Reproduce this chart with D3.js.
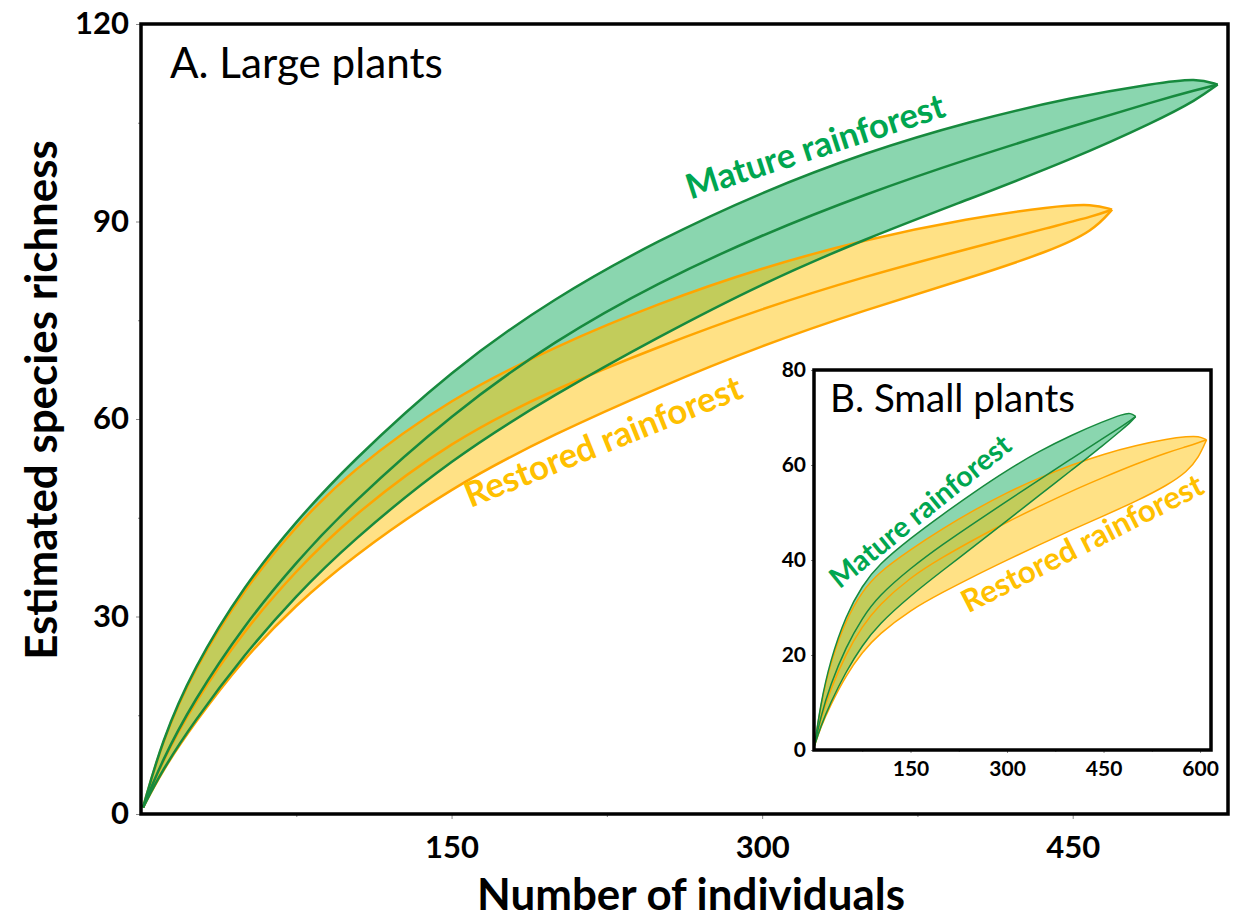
<!DOCTYPE html>
<html>
<head>
<meta charset="utf-8">
<script src="https://cdn.jsdelivr.net/npm/d3@7"></script>
<style>
  html, body { margin: 0; padding: 0; background: #fff; }
  svg { display: block; }
</style>
</head>
<body>
<svg id="chart" width="1235" height="920"></svg>
<script>
// ---- Panel A: large plants (rarefaction curves with 95% bands) ----
const largeMatureN    = [1, 10, 25, 50, 75, 100, 150, 200, 250, 300, 350, 400, 450, 490, 510, 520];
const largeMatureLow  = [1, 6.5, 13.8, 24.3, 33.2, 41, 54, 63.8, 72.5, 80.6, 87.4, 93.4, 99.5, 105.2, 108.5, 110.8];
const largeMatureMean = [1, 8, 17, 28.8, 38.3, 46.7, 60.8, 72, 80.8, 88, 94.2, 99.6, 104.5, 108.3, 110, 110.8];
const largeMatureHigh = [1, 11, 22, 34.8, 44.5, 53, 67.5, 78.5, 87.2, 94.5, 100.5, 105.2, 108.9, 111, 111.8, 110.8];

const largeRestoredN    = [1, 10, 25, 50, 75, 100, 150, 200, 250, 300, 350, 400, 440, 460, 469];
const largeRestoredLow  = [1, 6.4, 13.5, 23.8, 31.8, 38.6, 49.7, 57.8, 64.8, 71.2, 76.6, 81.4, 85.6, 88.6, 91.8];
const largeRestoredMean = [1, 7.8, 16.6, 28, 37, 44.8, 56.8, 64.6, 71, 76.8, 81.7, 85.9, 89.2, 90.8, 91.8];
const largeRestoredHigh = [1, 10.8, 21.7, 34.3, 43.8, 51.8, 63.3, 71, 77.6, 83, 87.3, 90.5, 92.3, 92.7, 91.8];

// ---- Panel B: small plants ----
const smallMatureN    = [1, 10, 25, 50, 75, 100, 150, 200, 250, 300, 350, 400, 450, 480, 492, 500];
const smallMatureLow  = [1, 4.8, 9.8, 16.6, 22, 26.4, 32.5, 37.8, 43, 48.3, 53.6, 58.9, 64.2, 67.6, 69, 70.2];
const smallMatureMean = [1, 6.8, 13.6, 21.8, 27.8, 32.4, 38.3, 43.3, 47.9, 52.4, 56.9, 61.3, 65.7, 68.3, 69.4, 70.2];
const smallMatureHigh = [1, 9.5, 18.8, 28.5, 34.6, 39, 44.6, 49.6, 54.4, 58.9, 62.9, 66.3, 69.2, 70.7, 71, 70.2];

const smallRestoredN    = [1, 10, 25, 50, 75, 100, 150, 200, 250, 300, 350, 400, 450, 500, 550, 580, 598, 610];
const smallRestoredLow  = [1, 4.6, 9.3, 15.8, 20.6, 24.3, 29.5, 33.2, 36.7, 40, 43.2, 46.3, 49.3, 52.3, 55.8, 58.6, 61.6, 65.3];
const smallRestoredMean = [1, 6.4, 12.6, 20.4, 26, 30.4, 36.4, 40.6, 44.4, 48, 51.3, 54.5, 57.4, 60.2, 62.7, 63.9, 64.7, 65.3];
const smallRestoredHigh = [1, 9.2, 18.2, 27.6, 33.4, 37.3, 42.2, 46.6, 50.6, 54.2, 57.3, 60, 62.3, 64.1, 65.5, 66, 66.1, 65.3];

// Axis ticks
const largeXTicks = [150, 300, 450];
const largeXMinor = [75, 225, 375];
const largeYTicks = [0, 30, 60, 90, 120];
const largeYMinor = [15, 45, 75, 105];
const smallXTicks = [150, 300, 450, 600];
const smallXMinor = [75, 225, 375, 525];
const smallYTicks = [0, 20, 40, 60, 80];

const FONT = "Lato, 'Open Sans', 'DejaVu Sans', sans-serif";
const matureFill = "#00A651", restoredFill = "#FFC000";
const matureLine = "#178A3E", restoredLine = "#FFA500";
const matureText = "#00A650", restoredText = "#FFC000";
const CURVE = d3.curveBasis;

const svg = d3.select("#chart");

function rows(ns, lo, mean, hi) {
  return ns.map((n, i) => ({ n, lo: lo[i], mean: mean[i], hi: hi[i] }));
}

function fitWidth(sel, target) {
  const w = sel.node().getComputedTextLength();
  const fs = parseFloat(sel.attr("font-size"));
  sel.attr("font-size", fs * target / w);
  return sel;
}

function drawBands(g, x, y, series, lw) {
  const area = d3.area().curve(CURVE)
    .x(d => x(d.n)).y0(d => y(d.lo)).y1(d => y(d.hi));
  const line = key => d3.line().curve(CURVE)
    .x(d => x(d.n)).y(d => y(d[key]));
  series.forEach(s => {
    g.append("path").datum(s.data).attr("d", area)
      .attr("fill", s.fill).attr("fill-opacity", s.opacity);
  });
  series.slice().reverse().forEach(s => {
    ["hi", "mean", "lo"].forEach(k => {
      g.append("path").datum(s.data).attr("d", line(k))
        .attr("fill", "none").attr("stroke", s.stroke)
        .attr("stroke-width", lw).attr("stroke-linejoin", "round");
    });
  });
}

function styleAxis(g, fontSize) {
  g.select(".domain").remove();
  g.selectAll(".tick line").attr("stroke", "#8a8a8a").attr("stroke-width", 1);
  g.selectAll(".tick text").attr("font-family", FONT).attr("font-weight", 700)
    .attr("font-size", fontSize).attr("fill", "#000");
}

// ================= Panel A =================
const xA = d3.scaleLinear().domain([0, 525]).range([141, 1228]);
const yA = d3.scaleLinear().domain([0, 120]).range([814, 24]);

const gA = svg.append("g");
drawBands(gA, xA, yA, [
  { data: rows(largeMatureN, largeMatureLow, largeMatureMean, largeMatureHigh),
    fill: matureFill, opacity: 0.46, stroke: matureLine },
  { data: rows(largeRestoredN, largeRestoredLow, largeRestoredMean, largeRestoredHigh),
    fill: restoredFill, opacity: 0.48, stroke: restoredLine }
], 2.5);

// ticks
const axA = svg.append("g").attr("transform", "translate(0,814)")
  .call(d3.axisBottom(xA).tickValues(largeXTicks).tickSize(5).tickPadding(17));
styleAxis(axA, 31);
const axAm = svg.append("g").attr("transform", "translate(0,814)")
  .call(d3.axisBottom(xA).tickValues(largeXMinor).tickSize(3).tickFormat(""));
styleAxis(axAm, 0);
const ayA = svg.append("g").attr("transform", "translate(141,0)")
  .call(d3.axisLeft(yA).tickValues(largeYTicks).tickSize(5).tickPadding(7));
styleAxis(ayA, 31);
const ayAm = svg.append("g").attr("transform", "translate(141,0)")
  .call(d3.axisLeft(yA).tickValues(largeYMinor).tickSize(3).tickFormat(""));
styleAxis(ayAm, 0);

// frame
svg.append("rect").attr("x", 141).attr("y", 24).attr("width", 1228 - 141).attr("height", 814 - 24)
  .attr("fill", "none").attr("stroke", "#000").attr("stroke-width", 3.5);

// panel title
fitWidth(svg.append("text").attr("x", 170).attr("y", 78)
  .attr("font-family", FONT).attr("font-size", 38).attr("fill", "#000")
  .text("A. Large plants"), 273);

// curve labels
function rotLabel(cx, cy, angle, str, color, width, fs) {
  const t = svg.append("text")
    .attr("transform", `translate(${cx},${cy}) rotate(${angle})`)
    .attr("text-anchor", "middle").attr("dy", "0.36em")
    .attr("font-family", FONT).attr("font-weight", 700)
    .attr("font-size", fs).attr("fill", color).text(str);
  fitWidth(t, width);
}
rotLabel(815, 146, -18, "Mature rainforest", matureText, 270, 32);
rotLabel(603, 441, -22, "Restored rainforest", restoredText, 296, 32);

// axis titles
fitWidth(svg.append("text").attr("x", 691).attr("y", 910).attr("text-anchor", "middle")
  .attr("font-family", FONT).attr("font-weight", 700).attr("font-size", 36).attr("fill", "#000")
  .text("Number of individuals"), 428);
fitWidth(svg.append("text").attr("transform", "translate(57,400) rotate(-90)")
  .attr("text-anchor", "middle")
  .attr("font-family", FONT).attr("font-weight", 700).attr("font-size", 36).attr("fill", "#000")
  .text("Estimated species richness"), 520);

// ================= Panel B (inset) =================
const xB = d3.scaleLinear().domain([0, 617]).range([814, 1211]);
const yB = d3.scaleLinear().domain([0, 80]).range([750, 370]);

svg.append("rect").attr("x", 814).attr("y", 370).attr("width", 1211 - 814).attr("height", 750 - 370)
  .attr("fill", "#fff");

const gB = svg.append("g");
drawBands(gB, xB, yB, [
  { data: rows(smallMatureN, smallMatureLow, smallMatureMean, smallMatureHigh),
    fill: matureFill, opacity: 0.46, stroke: matureLine },
  { data: rows(smallRestoredN, smallRestoredLow, smallRestoredMean, smallRestoredHigh),
    fill: restoredFill, opacity: 0.48, stroke: restoredLine }
], 1.5);

const axB = svg.append("g").attr("transform", "translate(0,750)")
  .call(d3.axisBottom(xB).tickValues(smallXTicks).tickSize(3).tickPadding(8));
styleAxis(axB, 21);
const axBm = svg.append("g").attr("transform", "translate(0,750)")
  .call(d3.axisBottom(xB).tickValues(smallXMinor).tickSize(2).tickFormat(""));
styleAxis(axBm, 0);
const ayB = svg.append("g").attr("transform", "translate(814,0)")
  .call(d3.axisLeft(yB).tickValues(smallYTicks).tickSize(3).tickPadding(5));
styleAxis(ayB, 21);

svg.append("rect").attr("x", 814).attr("y", 370).attr("width", 1211 - 814).attr("height", 750 - 370)
  .attr("fill", "none").attr("stroke", "#000").attr("stroke-width", 3.5);

fitWidth(svg.append("text").attr("x", 830).attr("y", 412)
  .attr("font-family", FONT).attr("font-size", 32).attr("fill", "#000")
  .text("B. Small plants"), 245);

rotLabel(920, 511, -39, "Mature rainforest", matureText, 224, 26);
rotLabel(1082, 543, -27, "Restored rainforest", restoredText, 267, 26);
</script>
</body>
</html>
